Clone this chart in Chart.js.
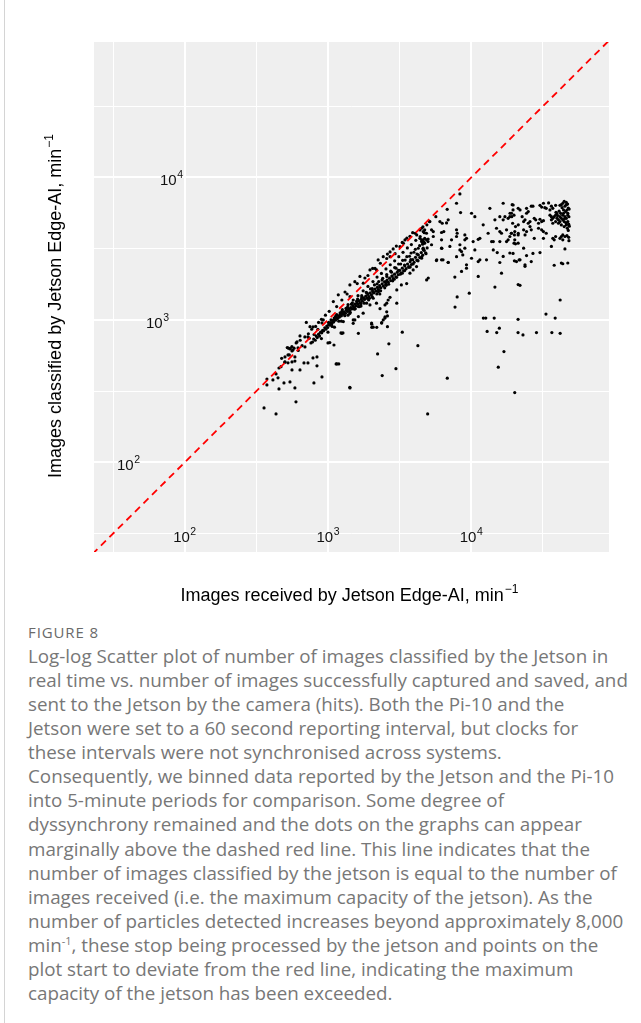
<!DOCTYPE html>
<html>
<head>
<meta charset="utf-8">
<script src="https://cdn.jsdelivr.net/npm/chart.js@4.4.0/dist/chart.umd.min.js"></script>
<style>
  html, body { margin: 0; padding: 0; background: #fff; }
  #page { position: relative; width: 641px; height: 1023px; overflow: hidden; }
  #page .edge { position: absolute; left: 4px; top: 0; bottom: 0; width: 1px; background: #d4d4d4; }
  #chart { position: absolute; left: 0; top: 0; }
  .fig { position: absolute; left: 28px; top: 623px; font: 15px "Open Sans", sans-serif; color: #6a6a6a; line-height: 18px; letter-spacing: 0.9px; }
  .cap { position: absolute; left: 28px; top: 644px; margin: 0; font: 18.8px "Open Sans", sans-serif; color: #777; line-height: 24.07px; white-space: nowrap; }
  .cap sup { font-size: 11px; line-height: 0; }
</style>
</head>
<body>
<div id="page">
  <div class="edge"></div>
  <canvas id="chart" width="641" height="615"></canvas>
  <div class="fig">FIGURE 8</div>
  <p class="cap">Log-log Scatter plot of number of images classified by the Jetson in<br>
real time vs. number of images successfully captured and saved, and<br>
sent to the Jetson by the camera (hits). Both the Pi-10 and the<br>
Jetson were set to a 60 second reporting interval, but clocks for<br>
these intervals were not synchronised across systems.<br>
Consequently, we binned data reported by the Jetson and the Pi-10<br>
into 5-minute periods for comparison. Some degree of<br>
dyssynchrony remained and the dots on the graphs can appear<br>
marginally above the dashed red line. This line indicates that the<br>
number of images classified by the jetson is equal to the number of<br>
images received (i.e. the maximum capacity of the jetson). As the<br>
number of particles detected increases beyond approximately 8,000<br>
min<sup>-1</sup>, these stop being processed by the jetson and points on the<br>
plot start to deviate from the red line, indicating the maximum<br>
capacity of the jetson has been exceeded.</p>
</div>

<script>
// donnees : [recues / min, classees / min]

// faibles debits, en bas a gauche
const tailPoints = [
  [358,241],[434,219],[598,266],[375,350],[375,385],[413,379],[434,418],[455,460],[448,392],[455,328],
  [493,361],[543,367],[588,333],[501,507],[526,500],[561,507],[588,514],[588,550],[501,550],[526,568],
  [543,626],[561,606],[570,615],[618,636],[608,701],[638,772],[691,646],[638,446],[561,446],[680,499],
  [725,499],[786,541],[838,476],[838,550],[798,361],[908,398],[1000,690],[1101,667],[1155,491],[1190,491],
  [1232,811],[1272,811],[1424,333],[761,690],[725,760]
];

// points sur la droite 1:1 ou juste au dessus
const upperStrand = [
  [475,538],[537,568],[580,633],[530,633],[470,470],[500,505],[520,640],[545,630],[560,650],[600,690],
  [620,610],[640,720],[660,660],[690,760],[706,960],[730,800],[740,745],[749,897],[770,860],[786,893],
  [800,790],[820,900],[850,860],[860,960],[900,1010],[908,952],[927,1000],[960,1080],[1020,1150],[1084,968],
  [1090,1346],[1180,1500],[1315,1570],[1422,1760],[1540,1855],[1671,2020],[1810,1970],[1963,2244],[2130,2300],[2240,2636],
  [2430,2780],[2570,2700],[2710,3000],[2940,2920],[3177,3270],[3445,3642],[3733,3860],[4050,4060],[4385,4285],
  [1150,1240],[1424,1457],[1763,1810],[2185,2245],[2710,2780],[3360,3450],[4160,3950],
  [1250,1380],[1360,1520],[1600,1800],[1900,2050],[2050,2300],[2320,2500],[2600,2900],[2850,3150],[3000,3300],
  [3300,3500],[3550,3750],[3900,4100],[4600,4500],[4900,4650],[5100,4900]
];

// bande dense sous la droite
const denseBand = [
  [780,700],[795,735],[815,720],[828,770],[842,752],[860,795],[873,770],[888,820],[905,812],[918,845],
  [932,838],[950,880],[967,860],[981,905],[995,885],[1012,930],[1030,918],[1046,958],[1063,940],[1078,990],
  [1095,968],[1112,1010],[1130,995],[1146,1040],[1165,1022],[1184,1070],[1200,1045],[1222,1092],[1241,1068],[1260,1115],
  [1282,1096],[1300,1140],[1325,1112],[1348,1170],[1370,1148],[1392,1198],[1418,1165],[1440,1222],[1465,1195],[1490,1255],
  [1515,1226],[1540,1290],[1568,1258],[1595,1322],[1622,1288],[1650,1360],[1680,1318],[1708,1395],[1740,1352],[1770,1430],
  [1800,1392],[1835,1468],[1868,1425],[1900,1510],[1935,1460],[1972,1552],[2010,1500],[2046,1598],[2085,1546],[2125,1645],
  [2165,1590],[2210,1690],[2250,1632],[2296,1742],[2340,1680],[2390,1795],[2435,1730],[2482,1850],[2530,1782],[2585,1905],
  [2635,1838],[2690,1965],[2740,1890],[2800,2030],[2855,1950],[2915,2095],[2975,2010],[3040,2160],[3100,2075],[3165,2230],
  [3230,2140],[3300,2310],[3370,2210],[3440,2390],[3510,2290],[3590,2470],[3665,2370],[3745,2560],[3820,2450],[3905,2650],
  [3990,2540],[4080,2750],[4170,2630],[4270,2860],[4370,2740],[4475,2970],[4580,2850],[4690,3080],[4800,2960],[4920,3200],
  [1050,1000],[1150,1090],[1260,1180],[1380,1280],[1500,1380],[1620,1480],[1760,1600],[1900,1720],[2060,1860],[2200,2000],
  [2360,2120],[2540,2280],[2720,2440],[2920,2600],[3120,2780],[3340,2980],[3580,3200],[3820,3380],[4100,3620],[4400,3850],
  [4700,4100],
  [900,740],[1000,820],[1110,890],[1240,980],[1380,1080],[1530,1190],[1700,1300],[1880,1420],[2080,1560],[2300,1700],
  [2540,1860],[2800,2030],[3100,2230],[3420,2430],[3780,2650],[4180,2900],[4600,3150],
  [1010,960],[1070,900],[1130,1060],[1190,980],[1250,1150],[1310,1070],[1370,1230],[1430,1130],[1480,1320],[1550,1200],
  [1610,1400],[1660,1240],[1720,1480],[1790,1310],[1850,1560],[1920,1380],[1980,1650],[2040,1450],[2110,1760],[2190,1520],
  [2260,1860],[2330,1600],[2410,1960],[2490,1680],[2570,2080],[2650,1780],[2740,2200],[2830,1880],[2920,2330],[3010,1990],
  [3110,2470],[3210,2100],[3320,2620],[3430,2220],[3550,2780],[3670,2340],[3800,2950],[3930,2470],[4070,3130],[4210,2620],
  [4360,3320],[4510,2770],[4670,3520],[4830,2920],[5000,3700],
  [1105,1030],[1215,1120],[1335,1205],[1455,1290],[1585,1355],[1725,1440],[1875,1545],[2035,1660],[2205,1790],[2385,1905],
  [2575,2020],[2775,2165],[2985,2310],[3215,2470],[3455,2630],[3705,2800],[3975,2985],[4265,3185],[4575,3400],
  [1700,1250],[1950,1420],[2250,1580],[2550,1750],[2900,1930],[3300,2130],[3750,2350],[4250,2600]
];

// bande clairsemee plus bas
const lowerStrand = [
  [1500,1000],[1630,1055],[1760,1115],[1963,1275],[2180,1310],[2307,1200],[2710,1440],[3020,1625],[3250,1760],[3540,1800],
  [3733,2130],[3930,2244],[4150,2370],[4880,1910],[5010,1970],[2015,950],[2070,890],[2370,950],[2430,1000],[3020,1310],
  [1280,973],[1420,1110],[1630,1240],[1860,1310],[2070,1420],[2300,1520],[1500,947],[1540,1000],[2500,1030],[2500,1050],
  [2500,1275],[2570,1310],[2630,1380]
];

// points isoles
const outliers = [
  [1030,693],[1140,491],[1250,806],[1420,337],[1630,806],[2020,888],[2020,933],[2190,888],[2370,957],[2600,897],
  [2600,1067],[2570,1140],[2220,577],[2390,407],[2660,680],[2980,455],[3300,820],[4240,660],[4960,219],[6800,390],
  [7970,1450],[7700,1230],[9680,1540],[6230,3180],[5740,2640],[6900,2540],[6350,2640],
  [12140,1030],[12620,1030],[14450,1030],[21200,1010],[33200,1100],[38500,1030],[41700,1380],[12900,830],[15050,815],
  [15700,875],[21200,815],[22950,785],[28500,815],[36500,815],[41700,805],[16900,600],[15430,466],[20100,309]
];

// saturation du Jetson
const plateau = [
  [8330,7660],[7890,6590],[6790,5980],[8420,5670],[5660,5310],[6040,4900],[6270,4770],[6720,4800],[6900,5040],[5140,4900],
  [5280,4290],[5430,4170],[4870,4060],[4500,4400],[4730,4290],[4620,4170],[6200,4110],[6430,4170],[7890,4290],[7970,4060],
  [4380,3740],[4500,3550],[4620,3650],[4730,3740],[4870,3650],[4990,3550],[4730,3460],[4500,3650],[4620,3460],
  [5430,3850],[5280,3370],[4620,3190],[4650,3100],[6200,3650],[7280,3650],[8330,3370],[7890,3850],[9020,3950],[9260,3740],
  [9020,3650],[10300,3550],[11180,3680],[11480,3740],[10040,5610],[10590,5310],[13480,6070],[16690,6590],[19600,6410],[21240,6070],
  [19090,5610],[18580,5310],[18080,5170],[17170,5310],[16690,5040],[15820,5310],[14620,5040],[12110,4650],[15000,4400],[15820,4170],
  [16250,4060],[17620,4290],[19090,4060],[20110,4170],[21240,3950],[18580,3850],[18080,3650],[17620,3550],[20110,3650],[21240,3460],
  [15820,3550],[13860,3550],[13110,4060],[14240,3550],
  [9020,3190],[8550,3020],[8330,3100],[8720,2860],[7890,2780],[7090,3280],[6200,3190],[6900,2530],[6200,2640],[5710,2610],
  [4500,2710],[10040,2710],[10590,3100],[11480,2640],[11180,2570],[12770,2640],[14240,3100],[15170,2970],[15820,2530],[16690,2790],
  [18580,2950],[20680,2570],[21580,2640],[16250,2130],[14620,1700],[21240,1770],[11180,2020],[9260,2440],[9260,2310],[8550,2190],
  [7680,2000],
  [19290,6440],[19560,5920],[18640,5610],[19150,5310],[19870,5440],[21880,5920],[24300,6070],[24970,5760],[24300,5610],[26210,6290],
  [26930,6290],[30160,6370],[31880,6590],[30970,6200],[34630,6630],[32600,6140],[33350,6070],[36230,6290],[37050,6070],[35410,5920],
  [38760,6370],[41570,6370],[42510,6440],[43500,6590],[45030,6290],[46060,6440],[43000,6140],[44010,5920],[47160,5610],
  [22640,5310],[23710,5040],[23180,4900],[24970,4770],[25690,4900],[27500,5170],[28160,5040],[30160,5090],[30970,4900],[29460,4770],
  [31880,4970],
  [35410,5440],[36230,5310],[37050,5170],[37890,5310],[38760,5440],[39650,5170],[40570,5040],[41570,5310],[42510,5170],[43500,5040],
  [44510,4900],[45030,5310],[46060,5170],[47160,4900],[40570,4770],[38760,4900],[37050,4770],[42510,4640],[44510,4520],[46060,4640],
  [36230,5040],[39650,5570],[43500,5440],[41570,4900],[47160,5440],
  [44000,5600],[45500,5750],[46500,5900],[47500,6100],[48000,5300],[47800,4700],[46800,4400],[45800,4800],[44800,5150],[42000,5600],
  [40000,5400],[39000,5700],[41000,5800],[46000,6700],[44500,6800],[47000,6500],[48200,6000],[48300,4550],[47500,4250],[46500,3900],
  [47800,3800],[48000,3600],
  [19430,4770],[20350,4520],[21280,4650],[23180,4290],[24300,4170],[23710,3950],[21280,4060],[20000,3950],[19010,4060],[25690,4520],
  [26210,4290],[29460,4400],[30970,4290],[31880,4170],[33350,4060],[27500,3740],[31880,3740],
  [37050,3740],[37890,3650],[38760,3850],[41570,3740],[42510,3850],[43500,3650],[45030,3850],[43500,3950],
  [19870,3460],[20350,3420],[23180,3190],[36230,3280],[45030,3150],[19560,2930],[24300,2830],[26930,2930],[30160,2970],[20000,2600],
  [21880,2640],[23710,2440],[23710,2380],[26210,2570],[37890,2420],[42510,2510],[43500,2480],[47160,2510],[21880,1750]
];

// limites des axes et graduations (puissances de 10)
const xRange = [23.3, 91400];
const yRange = [23.5, 89300];
const gridExponents = [1.5, 2, 2.5, 3, 3.5, 4, 4.5];
const labelExponents = [2, 3, 4];
const yLabelIndent = [46, 75, 89]; // decalage des etiquettes y depuis le bord du panneau

const allPoints = [].concat(tailPoints, upperStrand, denseBand, lowerStrand, outliers, plateau)
  .map(p => ({ x: p[0], y: p[1] }));

function setGridTicks(scale) {
  scale.ticks = gridExponents.map(e => ({ value: Math.pow(10, e) }));
}
function isMajor(v) {
  const l = Math.log10(v);
  return Math.abs(l - Math.round(l)) < 0.01;
}

function drawPow(ctx, exp, x, baseline, align) {
  ctx.font = '15px "Liberation Sans", Arial, sans-serif';
  const w1 = ctx.measureText('10').width;
  ctx.font = '10.5px "Liberation Sans", Arial, sans-serif';
  const w2 = ctx.measureText(String(exp)).width;
  const total = w1 + 0.5 + w2;
  const start = align === 'center' ? x - total / 2 : x - total;
  ctx.font = '15px "Liberation Sans", Arial, sans-serif';
  ctx.fillText('10', start, baseline);
  ctx.font = '10.5px "Liberation Sans", Arial, sans-serif';
  ctx.fillText(String(exp), start + w1 + 0.5, baseline - 7);
}

function drawTitle(ctx, main, cx, baseline) {
  ctx.font = '18px "Liberation Sans", Arial, sans-serif';
  const w1 = ctx.measureText(main).width;
  ctx.font = '12px "Liberation Sans", Arial, sans-serif';
  const w2 = ctx.measureText('\u22121').width;
  const start = cx - (w1 + 1 + w2) / 2;
  ctx.font = '18px "Liberation Sans", Arial, sans-serif';
  ctx.fillText(main, start, baseline);
  ctx.font = '12px "Liberation Sans", Arial, sans-serif';
  ctx.fillText('\u22121', start + w1 + 1, baseline - 8);
}

// fond gris du panneau
const panelBg = {
  id: 'panelBg',
  beforeDraw(chart) {
    const { ctx, chartArea: a } = chart;
    ctx.save();
    ctx.fillStyle = '#efefef';
    ctx.fillRect(a.left, a.top, a.right - a.left, a.bottom - a.top);
    ctx.restore();
  }
};

// etiquettes 10^n et titres des axes
const labels = {
  id: 'labels',
  afterDraw(chart) {
    const { ctx, chartArea: a, scales: { x, y } } = chart;
    ctx.save();
    ctx.fillStyle = '#111';
    ctx.textAlign = 'left';
    ctx.textBaseline = 'alphabetic';
    labelExponents.forEach(e => drawPow(ctx, e, x.getPixelForValue(Math.pow(10, e)), a.bottom - 10, 'center'));
    labelExponents.forEach((e, i) => drawPow(ctx, e, a.left + yLabelIndent[i], y.getPixelForValue(Math.pow(10, e)) + 8, 'right'));

    ctx.fillStyle = '#000';
    drawTitle(ctx, 'Images received by Jetson Edge-AI, min', (a.left + a.right) / 2 - 2, 601);
    ctx.translate(61, (a.top + a.bottom) / 2 + 9);
    ctx.rotate(-Math.PI / 2);
    drawTitle(ctx, 'Images classified by Jetson Edge-AI, min', 0, 0);
    ctx.restore();
  }
};

new Chart(document.getElementById('chart'), {
  type: 'scatter',
  data: {
    datasets: [
      {
        type: 'line',
        data: [{ x: 10, y: 10 }, { x: 100000, y: 100000 }],
        borderColor: '#ff0000',
        borderWidth: 1.8,
        borderDash: [7, 5],
        pointRadius: 0,
        fill: false
      },
      {
        data: allPoints,
        pointRadius: 1.6,
        pointBackgroundColor: '#000',
        pointBorderWidth: 0
      }
    ]
  },
  options: {
    responsive: false,
    animation: false,
    layout: { padding: { left: 94, right: 32, top: 42, bottom: 63 } },
    plugins: { legend: { display: false }, tooltip: { enabled: false } },
    scales: {
      x: {
        type: 'logarithmic', min: xRange[0], max: xRange[1],
        afterBuildTicks: setGridTicks,
        ticks: { display: false },
        border: { display: false },
        grid: { color: '#fff', drawTicks: false, lineWidth: c => isMajor(c.tick.value) ? 2 : 1 }
      },
      y: {
        type: 'logarithmic', min: yRange[0], max: yRange[1],
        afterBuildTicks: setGridTicks,
        ticks: { display: false },
        border: { display: false },
        grid: { color: '#fff', drawTicks: false, lineWidth: c => isMajor(c.tick.value) ? 2 : 1 }
      }
    }
  },
  plugins: [panelBg, labels]
});
</script>
</body>
</html>
